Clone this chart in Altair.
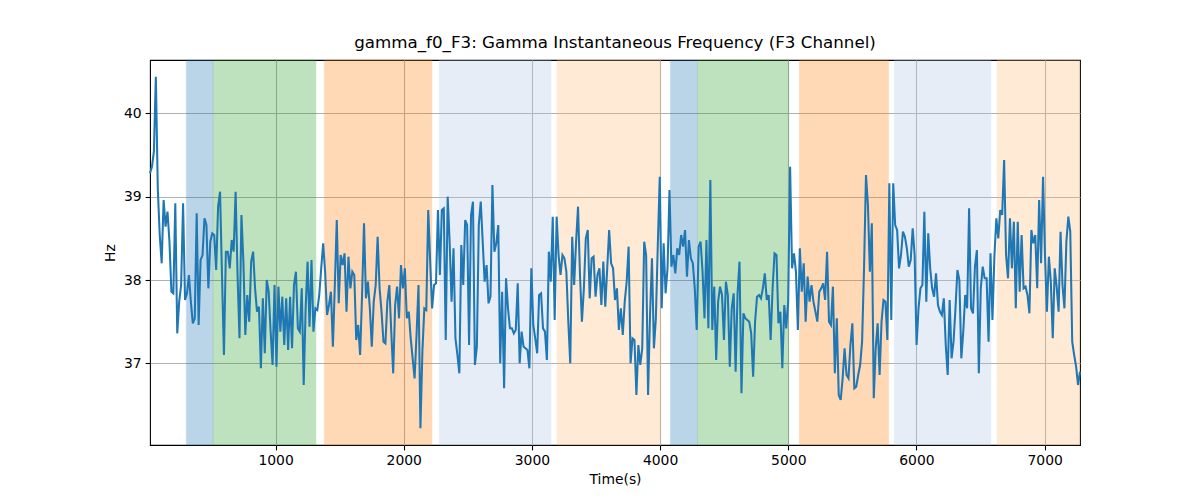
import altair as alt
import numpy as np
import pandas as pd

TITLE = "gamma_f0_F3: Gamma Instantaneous Frequency (F3 Channel)"
T_START = 20
T_END = 7276

seg1 = [39.28, 39.36, 39.54, 40.44, 39.1, 38.54, 38.2, 38.96, 38.64, 38.82, 38.46, 37.86, 37.84, 38.92,
        37.36, 37.74, 37.94, 38.92, 37.76, 37.84, 38.06, 37.74, 37.48, 37.54, 38.8, 37.46, 38.24, 38.3,
        38.74, 38.66, 37.9, 38.46, 38.56, 38.54, 38.12, 38.88, 39.06, 38.06, 37.1, 38.34, 38.34, 38.14,
        38.48, 38.34, 39.06, 38.06, 37.3, 38.78, 38.22, 37.34, 37.82, 37.5, 38.22, 38.34, 37.9, 37.62,
        37.68, 36.94, 37.78, 37.12, 38.0, 37.86, 37.38, 36.98, 37.94, 36.96, 37.92, 37.38, 37.8, 37.22,
        37.78, 37.16, 37.8, 37.18, 37.94, 38.1, 37.42, 37.38, 37.9]
seg2 = [36.74, 37.66, 38.22, 37.44, 38.24, 37.38, 37.66, 37.64, 37.82, 38.14, 38.44, 38.1, 37.58, 37.7,
        37.86, 37.2, 37.94, 38.72, 37.72, 38.3, 38.18, 38.32, 37.62, 38.28, 37.9, 38.1, 38.06, 37.28,
        37.46, 37.1, 37.82, 38.68, 37.78, 37.98, 37.66, 37.2, 37.74, 37.94, 38.52, 37.9, 37.62, 37.26,
        37.24, 37.74, 37.94, 37.38, 36.88, 37.7, 37.92, 37.54, 38.18, 37.9, 38.14, 37.54, 37.62, 37.3,
        37.06, 36.82, 37.34, 37.94, 36.22, 37.14, 37.66, 37.64, 38.84, 38.22, 37.66, 37.94, 37.96, 38.84,
        38.06, 38.84, 38.86, 37.28, 39.0, 38.46, 37.74, 38.38]
seg3 = [37.3, 37.1, 36.88, 38.42, 37.94, 38.72, 38.66, 37.22, 38.78, 38.94, 36.98, 37.2, 38.66, 38.94,
        38.46, 37.98, 38.18, 37.72, 37.8, 39.14, 38.34, 38.44, 38.66, 37.0, 37.86, 36.7, 38.02, 37.66,
        37.42, 37.42, 37.36, 37.4, 37.96, 37.0, 37.38, 37.2, 37.18, 37.16, 36.94, 38.14, 37.46, 37.3,
        37.12, 37.82, 37.84, 37.42, 37.38, 37.04, 38.34, 37.98, 38.76, 37.52, 38.76, 38.3, 38.06, 38.3,
        38.26, 38.1, 37.5, 37.0, 38.52, 37.94, 38.46, 38.88, 38.06, 37.5, 37.9, 38.5, 38.6, 37.78, 38.26,
        38.28, 37.8, 38.06, 38.14, 37.7, 38.22, 37.68, 38.14, 38.6]
seg4 = [38.2, 38.14, 37.76, 37.9, 37.4, 37.66, 37.34, 37.74, 37.98, 38.4, 37.0, 37.3, 37.28, 36.62, 37.22,
        36.98, 37.18, 38.46, 38.3, 36.62, 37.58, 38.26, 37.18, 37.54, 38.42, 39.24, 37.66, 38.44, 37.84,
        38.14, 39.08, 38.16, 38.3, 38.08, 38.38, 38.3, 38.54, 38.4, 38.6, 38.04, 38.48, 38.26, 38.2, 37.9,
        37.4, 38.4, 38.46, 38.1, 37.54, 38.48, 37.42, 39.2, 37.4, 37.92, 37.04, 37.74, 37.92, 37.82, 37.28,
        37.98, 37.82, 36.96, 37.66, 37.84, 36.9, 37.84, 38.22, 36.64, 37.6, 37.54, 37.52, 37.5, 37.36,
        36.84, 37.5, 37.8, 37.82, 37.78, 37.9, 38.08, 37.76]
seg5 = [37.82, 37.28, 37.9, 38.32, 38.3, 37.48, 37.62, 36.94, 37.7, 37.42, 37.74, 39.36, 38.14, 38.32,
        38.1, 37.4, 38.38, 37.86, 38.2, 37.5, 38.04, 37.74, 37.94, 37.74, 37.62, 37.5, 37.86, 37.9, 37.96,
        37.76, 38.34, 37.5, 37.46, 37.92, 36.88, 37.54, 36.62, 36.56, 36.82, 37.18, 36.86, 36.82, 37.22,
        37.48, 36.7, 36.72, 36.86, 36.98, 37.26, 38.14, 39.26, 38.9, 38.1, 38.68, 36.58, 37.18, 37.48,
        36.86, 37.5, 37.76, 37.74, 37.28, 39.16, 37.52, 39.16, 38.66, 38.6, 38.14, 38.3, 38.58, 38.52,
        38.38, 38.16, 38.24, 38.62, 38.3, 37.22, 37.66, 37.9, 37.94]
seg6 = [38.82, 37.74, 38.56, 38.14, 37.9, 37.8, 38.08, 37.7, 37.62, 37.58, 37.78, 37.22, 36.86, 37.76,
        37.06, 37.26, 37.66, 38.12, 38.0, 37.06, 37.38, 37.82, 37.66, 38.86, 37.66, 37.6, 38.16, 38.36,
        36.88, 37.9, 38.16, 38.02, 38.02, 37.26, 38.32, 37.52, 38.28, 38.74, 38.5, 38.84, 38.78, 39.44,
        38.3, 38.02, 38.74, 38.14, 38.7, 37.66, 38.7, 37.86, 38.54, 37.9, 37.92, 37.82, 37.6, 38.6, 38.44,
        38.54, 37.9, 38.96, 38.2, 39.24, 38.3, 37.62, 38.28, 37.98, 37.3, 38.14, 37.92, 37.62, 38.58, 37.94,
        37.66, 38.46, 38.76, 38.58, 37.26, 37.1, 36.96, 36.74, 36.9]

hz = seg1 + seg2 + seg3 + seg4 + seg5 + seg6
times = np.linspace(T_START, T_END, len(hz))
line_df = pd.DataFrame({"t": times, "hz": hz})

band_start = [303, 512, 1380, 2277, 3196, 4080, 4292, 5086, 5827, 6629]
band_end = [512, 1315, 2220, 3149, 4005, 4292, 5003, 5783, 6581, 7276]
band_color = ["#1f77b4", "#2ca02c", "#ff7f0e", "#aec7e8", "#ffbb78",
              "#1f77b4", "#2ca02c", "#ff7f0e", "#aec7e8", "#ffbb78"]
band_df = pd.DataFrame({"s": band_start, "e": band_end, "c": band_color})

x_ticks = [1000, 2000, 3000, 4000, 5000, 6000, 7000]
y_ticks = [37, 38, 39, 40]

xscale = alt.Scale(domain=[T_START, T_END], nice=False, zero=False)
yscale = alt.Scale(domain=[36.02, 40.64], nice=False, zero=False)

bands = alt.Chart(band_df).mark_rect(opacity=0.3, strokeOpacity=0.45, strokeWidth=1).encode(
    x=alt.X("s:Q", scale=xscale, axis=alt.Axis(values=x_ticks, title="Time(s)", format="d")),
    x2="e:Q",
    y=alt.value(0),
    y2=alt.value(385),
    color=alt.Color("c:N", scale=None),
    stroke=alt.Stroke("c:N", scale=None),
)

line = alt.Chart(line_df).mark_line(color="#1f77b4", strokeWidth=2.05).encode(
    x=alt.X("t:Q", scale=xscale),
    y=alt.Y("hz:Q", scale=yscale, axis=alt.Axis(values=y_ticks, title="Hz")),
)

chart = alt.layer(bands, line).properties(
    width=930,
    height=385,
    title=alt.TitleParams(TITLE, fontSize=16.7, fontWeight="normal", font="DejaVu Sans",
                          color="black", offset=8),
    autosize=alt.AutoSizeParams(type="none"),
    padding={"left": 142, "top": 52, "right": 112, "bottom": 47},
).configure_view(
    stroke="black", strokeWidth=1.1
).configure_axis(
    grid=True, gridColor="#b0b0b0", gridWidth=1.1,
    domain=False, tickColor="black", tickSize=4.9, tickWidth=1.1,
    labelFont="DejaVu Sans", labelFontSize=13.9, labelColor="black", labelPadding=4,
    titleFont="DejaVu Sans", titleFontSize=13.9, titleFontWeight="normal", titleColor="black",
).configure_axisX(
    titlePadding=5, labelFlush=False
).configure_axisY(
    titlePadding=6
)

chart.save("out.html", embed_options={"renderer": "svg", "actions": False})
